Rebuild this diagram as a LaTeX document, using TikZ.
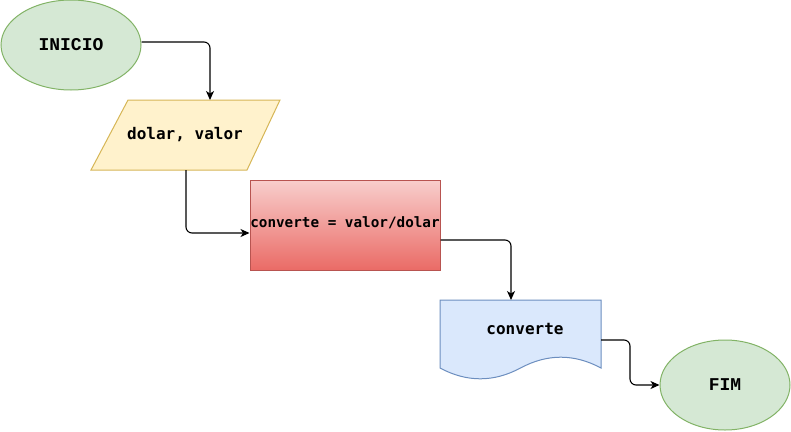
\documentclass[tikz,border=0pt]{standalone}
\usepackage{fontspec}
\usetikzlibrary{shapes.geometric,arrows.meta}
\newfontfamily\courierf{Liberation Mono}
\newfontfamily\consolf{DejaVu Sans Mono}
\definecolor{termfill}{HTML}{D5E8D4}
\definecolor{termline}{HTML}{82B366}
\definecolor{iofill}{HTML}{FFF2CC}
\definecolor{ioline}{HTML}{D6B656}
\definecolor{procline}{HTML}{B85450}
\definecolor{proctop}{HTML}{F8CECC}
\definecolor{procbot}{HTML}{EA6B66}
\definecolor{docfill}{HTML}{DAE8FC}
\definecolor{docline}{HTML}{6C8EBF}
\tikzset{
  term/.style={ellipse, draw=termline, fill=termfill, line width=1pt, inner sep=0pt,
    font=\courierf\bfseries\fontsize{18}{20}\selectfont},
  txt/.style={font=\consolf\bfseries\fontsize{15}{18}\selectfont, inner sep=0pt},
  arr/.style={draw=black, line width=1.1pt, rounded corners=6pt,
    -{Stealth[length=9pt,width=8pt,inset=2.5pt]}},
}
\begin{document}
\begin{tikzpicture}[x=1pt,y=-1pt]
\useasboundingbox (0,0) rectangle (791,431);
% INICIO
\node[term, minimum width=140pt, minimum height=90pt] (inicio) at (71,45) {INICIO};
% parallelogram
\draw[draw=ioline, fill=iofill, line width=1pt] (128,100) -- (280,100) -- (247,170) -- (91,170) -- cycle;
\node[txt, font=\consolf\bfseries\fontsize{16}{18}\selectfont] (io) at (185,135) {dolar, valor};
\coordinate (iotop) at (210,100);
\coordinate (iobot) at (186,170);
% process
\node[draw=procline, line width=1pt, top color=proctop, bottom color=procbot,
  minimum width=190pt, minimum height=90pt, inner sep=0pt] (proc) at (345,225) {};
\node[txt, font=\consolf\bfseries\fontsize{14.3}{17}\selectfont] (proctext) at (345,223) {converte = valor/dolar};
% document
\draw[draw=docline, fill=docfill, line width=1pt] (440,300) -- (601,300) -- (601,368)
  .. controls (574.17,353.6) and (547.33,353.6) .. (520.5,368)
  .. controls (493.67,382.4) and (466.83,382.4) .. (440,368) -- cycle;
\node[txt, font=\consolf\bfseries\fontsize{16}{18}\selectfont] (doc) at (525,329) {converte};
\coordinate (doctop) at (511,300);
\coordinate (docright) at (601,340);
% FIM
\node[term, minimum width=130pt, minimum height=90pt] (fim) at (725,385) {FIM};
% connectors
\draw[arr] ([yshift=3pt]inicio.east) -| (iotop);
\draw[arr] (iobot) |- ([yshift=-8pt]proc.west);
\draw[arr] ([yshift=-15pt]proc.east) -| (doctop);
\draw[arr] (docright) -| (630,385) -- (fim.west);
\end{tikzpicture}
\end{document}
